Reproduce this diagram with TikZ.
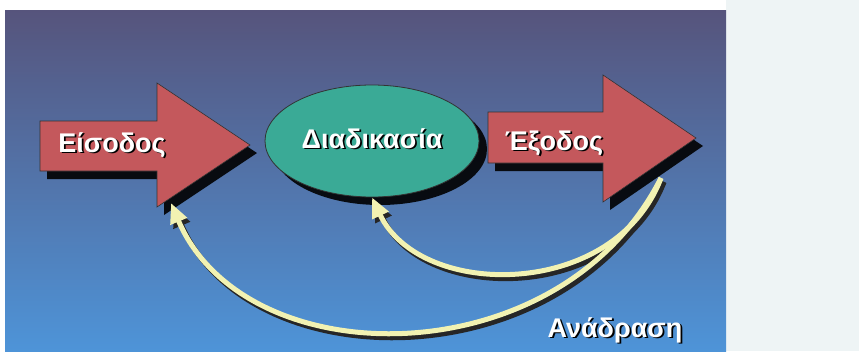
\documentclass[tikz,border=0pt]{standalone}
\usepackage{fontspec}
\setmainfont{Liberation Sans}
\usetikzlibrary{shapes.geometric, arrows.meta, positioning, shadows}
\definecolor{PanelTop}{RGB}{86, 84, 124}
\definecolor{PanelMid}{RGB}{72, 90, 146}
\definecolor{PanelBot}{RGB}{78, 148, 216}
\definecolor{PageBg}{RGB}{238, 244, 245}
\definecolor{ArrowRed}{RGB}{196, 88, 92}
\definecolor{ProcTeal}{RGB}{58, 170, 150}
\definecolor{FbYellow}{RGB}{242, 242, 178}

% white text with a dark offset copy behind it
\newcommand{\shtext}[1]{\rlap{\kern1.8pt\raisebox{-1.8pt}{\color{black}#1}}#1}

\begin{document}
\begin{tikzpicture}[x=1pt, y=-1pt,
  bigarrow/.style={fill=ArrowRed, draw=black!80, line width=0.6pt,
    drop shadow={shadow xshift=7pt, shadow yshift=-8pt, fill=black, opacity=0.9}},
  proc/.style={ellipse, fill=ProcTeal, draw=black!80, line width=0.8pt,
    minimum width=214pt, minimum height=112pt, inner sep=0pt,
    drop shadow={shadow xshift=8pt, shadow yshift=-8pt, fill=black, opacity=0.9}},
  lbl/.style={font=\bfseries\fontsize{27}{30}\selectfont, text=white, inner sep=0pt},
  fb/.style={FbYellow, line width=5pt, -{Triangle[length=20pt, width=17pt]}},
  fbshade/.style={black!85, line width=5pt, -{Triangle[length=20pt, width=17pt]},
    transform canvas={shift={(3pt,-4pt)}}}
]
\useasboundingbox (0,0) rectangle (859,351);
\fill[white] (0,0) rectangle (859,351);
\fill[PageBg] (726,0) rectangle (859,351);
\shade[top color=PanelTop, middle color=PanelMid, bottom color=PanelBot]
  (5,10) rectangle (726,351);

% input and output arrows
\draw[bigarrow] (40,121) -- (157,121) -- (157,83) -- (250,145)
  -- (157,207) -- (157,171) -- (40,171) -- cycle;
\draw[bigarrow] (488,112) -- (603,112) -- (603,75) -- (696,138)
  -- (603,202) -- (603,163) -- (488,163) -- cycle;
\coordinate (infb) at (171,203);
\coordinate (outfb) at (661,178);

\node[proc] (proc) at (372,141) {};

\node[lbl, anchor=base] (inlbl) at (112,152) {\shtext{Είσοδος}};
\node[lbl, anchor=base] (proclbl) at (372,148) {\shtext{Διαδικασία}};
\node[lbl, anchor=base] (outlbl) at (554,150) {\shtext{Έξοδος}};

% feedback
\draw[fbshade] (outfb) .. controls (615,300) and (420,300) .. (proc.south);
\draw[fbshade] (outfb) .. controls (560,378) and (245,378) .. (infb);
\draw[fb] (outfb) .. controls (615,300) and (420,300) .. (proc.south);
\draw[fb] (outfb) .. controls (560,378) and (245,378) .. (infb);
\node[lbl, anchor=base] (fblbl) at (615,337) {\shtext{Ανάδραση}};
\end{tikzpicture}
\end{document}
